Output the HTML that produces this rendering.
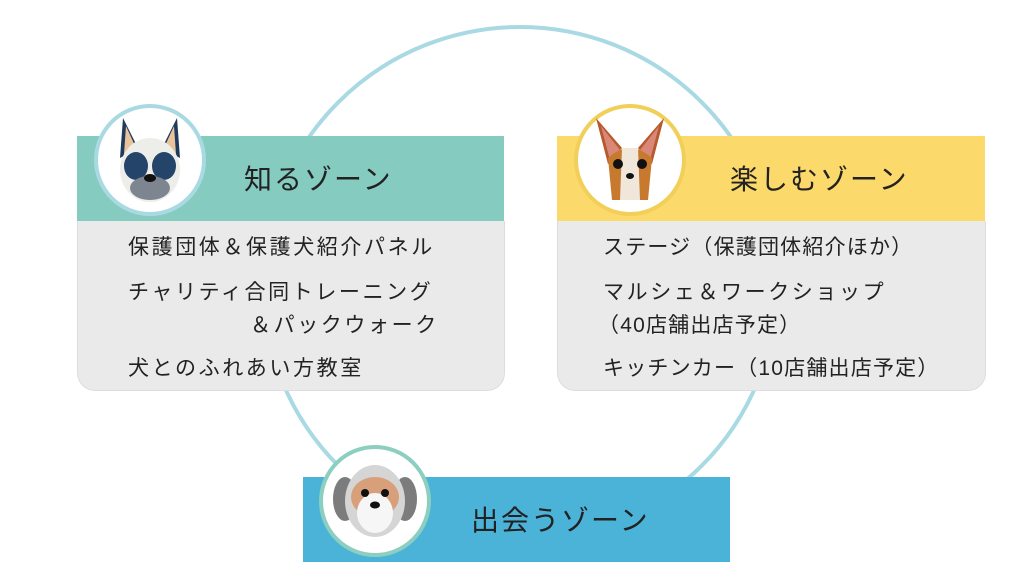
<!DOCTYPE html>
<html><head><meta charset="utf-8"><style>
body{margin:0;width:1024px;height:577px;background:#fff;overflow:hidden;position:relative;font-family:"Liberation Sans","Noto Sans CJK JP",sans-serif;color:#222}
.hd{position:absolute;height:85px;font-size:28px;line-height:88px;letter-spacing:2px}
.bd{position:absolute;background:#ebeaeb;border-radius:0 0 18px 18px;border:1px solid #ddd;border-top:none}
.t{position:absolute;font-size:21px;white-space:nowrap;letter-spacing:2.6px}
.av{position:absolute;border-radius:50%;background:#fff;box-sizing:border-box}
</style></head><body>
<svg width="1024" height="577" style="position:absolute;left:0;top:0">
<circle cx="520" cy="284" r="257" fill="none" stroke="#a9dae3" stroke-width="4"/>
</svg>
<div class="hd" style="left:77px;top:136px;width:427px;background:#85cbc0"><span style="position:absolute;left:167px">知るゾーン</span></div>
<div class="bd" style="left:77px;top:221px;width:426px;height:169px"></div>
<div class="t" style="left:128px;top:231px">保護団体＆保護犬紹介パネル</div>
<div class="t" style="left:128px;top:276px">チャリティ合同トレーニング</div>
<div class="t" style="left:250px;top:309px">＆パックウォーク</div>
<div class="t" style="left:128px;top:352px">犬とのふれあい方教室</div>
<div class="hd" style="left:557px;top:136px;width:428px;background:#fcd96b"><span style="position:absolute;left:173px">楽しむゾーン</span></div>
<div class="bd" style="left:557px;top:221px;width:427px;height:169px"></div>
<div class="t" style="left:603px;top:231px;letter-spacing:1.2px">ステージ（保護団体紹介ほか）</div>
<div class="t" style="left:603px;top:276px">マルシェ＆ワークショップ</div>
<div class="t" style="left:598px;top:309px;letter-spacing:1.2px">（40店舗出店予定）</div>
<div class="t" style="left:603px;top:352px;letter-spacing:1.2px">キッチンカー（10店舗出店予定）</div>
<div class="hd" style="left:303px;top:477px;width:427px;background:#4bb3d8"><span style="position:absolute;left:168px">出会うゾーン</span></div>
<div class="av" style="left:94px;top:104px;width:112px;height:112px;border:4px solid #a9dae3">
<svg width="104" height="104" viewBox="0 0 104 104"><path d="M25 10 L40 40 L22 50Z M79 10 L64 40 L82 50Z" fill="#1f3a5c"/><path d="M28 18 L38 40 L26 46Z M76 18 L66 40 L78 46Z" fill="#e9c39a"/><ellipse cx="52" cy="62" rx="30" ry="32" fill="#ededea"/><ellipse cx="38" cy="58" rx="12" ry="14" fill="#24446a"/><ellipse cx="66" cy="58" rx="12" ry="14" fill="#24446a"/><ellipse cx="52" cy="80" rx="20" ry="12" fill="#7d8590"/><ellipse cx="52" cy="70" rx="6" ry="4" fill="#111"/></svg></div>
<div class="av" style="left:574px;top:104px;width:112px;height:112px;border:4px solid #f2cf58">
<svg width="104" height="104" viewBox="0 0 104 104"><path d="M18 10 L44 40 L30 56Z M86 10 L60 40 L74 56Z" fill="#b7592f"/><path d="M23 18 L42 42 L32 52Z M81 18 L62 42 L72 52Z" fill="#d98877"/><path d="M30 50 Q52 30 74 50 L70 92 L34 92Z" fill="#c77a2e"/><path d="M44 40 L60 40 L62 92 L42 92Z" fill="#f1e6da"/><circle cx="40" cy="56" r="5" fill="#111"/><circle cx="64" cy="56" r="5" fill="#111"/><ellipse cx="52" cy="68" rx="4" ry="3" fill="#111"/></svg></div>
<div class="av" style="left:319px;top:445px;width:112px;height:112px;border:4px solid #8ccfc1">
<svg width="104" height="104" viewBox="0 0 104 104"><ellipse cx="22" cy="50" rx="12" ry="22" fill="#7c7c7c"/><ellipse cx="82" cy="50" rx="12" ry="22" fill="#7c7c7c"/><ellipse cx="52" cy="52" rx="30" ry="36" fill="#d5d5d5"/><ellipse cx="52" cy="48" rx="24" ry="20" fill="#d8a07a"/><ellipse cx="52" cy="64" rx="18" ry="20" fill="#f6f6f6"/><circle cx="42" cy="44" r="4" fill="#111"/><circle cx="62" cy="44" r="4" fill="#111"/><ellipse cx="52" cy="56" rx="5" ry="3.5" fill="#111"/></svg></div>
</body></html>
